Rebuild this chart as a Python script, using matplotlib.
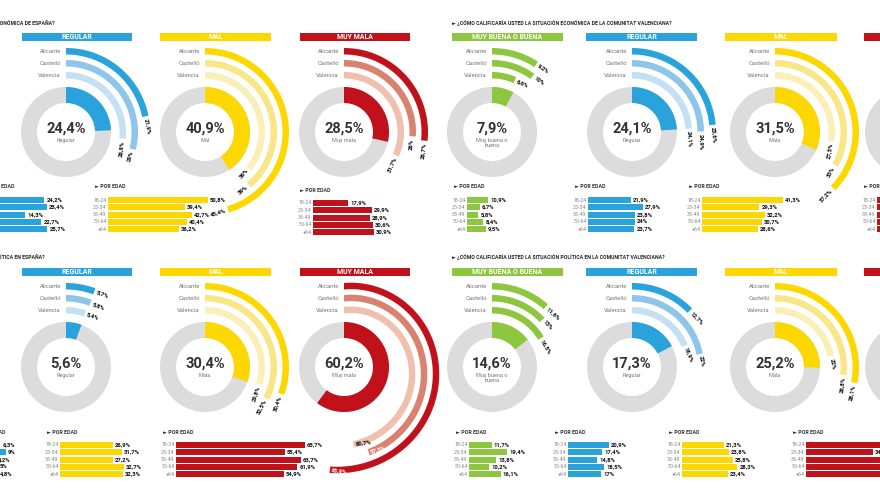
import numpy as np
import matplotlib.pyplot as plt
from matplotlib.patches import Polygon, Wedge, Rectangle

plt.rcParams['font.family'] = ['Roboto', 'DejaVu Sans']

provincias = ['Alicante', 'Castelló', 'Valencia']
edades = ['18-24', '25-34', '35-49', '50-64', '+64']

# situación económica de España
eco_esp_cat = ['REGULAR', 'MAL', 'MUY MALA']
eco_esp_sub = ['Regular', 'Mal', 'Muy mala']
eco_esp_total = [24.4, 40.9, 28.5]
eco_esp_prov = [[21.9, 29.0, 26.8], [45.4, 39.0, 36.0], [26.7, 26.0, 31.7]]
eco_esp_edad = [[24.2, 25.4, 14.3, 22.7, 25.7],
                [50.8, 39.4, 42.7, 40.4, 36.2],
                [17.9, 29.9, 28.9, 30.6, 30.9]]

# situación económica de la Comunitat Valenciana
eco_cv_cat = ['MUY BUENA O BUENA', 'REGULAR', 'MAL', 'MUY MALA']
eco_cv_sub = ['Muy buena o\nbuena', 'Regular', 'Mala', 'Muy mala']
eco_cv_total = [7.9, 24.1, 31.5, 33.0]
eco_cv_prov = [[9.2, 10.0, 6.6], [23.6, 24.9, 24.1], [37.2, 33.0, 27.5], [34.0, 31.0, 33.5]]
eco_cv_edad = [[10.9, 6.7, 5.8, 8.4, 9.5],
               [21.9, 27.9, 23.8, 24.0, 23.7],
               [41.3, 29.3, 32.2, 30.7, 28.6],
               [30.1, 32.4, 35.0, 33.2, 34.5]]

# situación política en España
pol_esp_cat = ['REGULAR', 'MAL', 'MUY MALA']
pol_esp_sub = ['Regular', 'Mala', 'Muy mala']
pol_esp_total = [5.6, 30.4, 60.2]
pol_esp_prov = [[5.7, 5.8, 5.4], [30.4, 32.5, 29.8], [65.9, 57.5, 60.7]]
pol_esp_edad = [[6.3, 9.0, 4.2, 5.0, 4.8],
                [26.9, 31.7, 27.2, 32.7, 32.3],
                [65.7, 55.4, 63.7, 61.9, 54.9]]

# situación política en la Comunitat Valenciana
pol_cv_cat = ['MUY BUENA O BUENA', 'REGULAR', 'MAL', 'MUY MALA']
pol_cv_sub = ['Muy buena o\nbuena', 'Regular', 'Mala', 'Muy mala']
pol_cv_total = [14.6, 17.3, 25.2, 38.0]
pol_cv_prov = [[11.6, 13.0, 16.5], [12.7, 22.0, 18.9], [28.1, 26.8, 22.0], [40.0, 36.0, 38.0]]
pol_cv_edad = [[11.7, 19.4, 13.8, 10.2, 16.1],
               [20.9, 17.4, 14.8, 18.5, 17.0],
               [21.3, 23.8, 25.8, 28.3, 23.4],
               [45.0, 34.2, 44.0, 47.0, 52.0]]

palette = {
    'green': ['#8dc63f', '#8dc63f', '#8dc63f'],
    'blue': ['#2aa3dd', '#8ec6ea', '#c4e1f4'],
    'yellow': ['#fdd800', '#f9e687', '#fbefb8'],
    'red': ['#c1121c', '#d9826f', '#efc0ae'],
}
GRAY = '#dcdcdc'
PX = 1.96  # pixels per percentage point in the age bars


def fmt(v):
    if float(v).is_integer():
        return f'{int(v)}%'
    return f'{v:.1f}%'.replace('.', ',')


def band(ax, cx, cy, r_in, width, pct, color, grow=0.0, deg=3.6):
    a = np.radians(np.linspace(0, pct * deg, 150))
    g = grow * a / (2 * np.pi)
    ro, ri = r_in + width + g, r_in + g
    xs = np.r_[cx + ro * np.sin(a), (cx + ri * np.sin(a))[::-1]]
    ys = np.r_[cy - ro * np.cos(a), (cy - ri * np.cos(a))[::-1]]
    ax.add_patch(Polygon(np.column_stack([xs, ys]), closed=True, fc=color, ec='none'))
    return a[-1], r_in + width / 2 + g[-1]


def draw_col(ax, cx, cy, hx, cat, sub, total, prov, ckey, grow=0.0, deg=3.6, inside=False):
    cols = palette[ckey]
    ax.add_patch(Rectangle((hx[0], cy - 99), hx[1] - hx[0], 8, fc=cols[0], ec='none'))
    ax.text((hx[0] + hx[1]) / 2, cy - 94.8, cat, ha='center', va='center', color='white',
            fontsize=5, fontweight='bold')
    ax.add_patch(Wedge((cx, cy), 45, 0, 360, width=16, fc=GRAY, ec='none'))
    band(ax, cx, cy, 29, 16, total, cols[0])
    ax.text(cx, cy - 3, fmt(total), ha='center', va='center', fontsize=10.5,
            fontweight='bold', color='#333333')
    ax.text(cx, cy + 6, sub, ha='center', va='top', fontsize=4, color='#777777',
            linespacing=1.1)
    for i, (name, v) in enumerate(zip(provincias, prov)):
        r_in = 77.5 - 12 * i
        a, r = band(ax, cx, cy, r_in, 6.5, v, cols[i], grow, deg)
        ax.text(cx - 5, cy - r_in - 3.25, name, ha='right', va='center',
                fontsize=4.2, color='#777777')
        off = -1.5 if inside else 2
        px = cx + r * np.sin(a) + off * np.cos(a)
        py = cy - r * np.cos(a) + off * np.sin(a)
        rot = -np.degrees(a)
        flip = rot < -90
        if flip:
            rot += 180
        ha = 'right' if flip != inside else 'left'
        tcol = '#111111'
        if inside and i < 2:
            tcol = 'white'
        ax.text(px, py, fmt(v), rotation=rot, rotation_mode='anchor', ha=ha,
                va='center', fontsize=4.3, fontweight='bold', color=tcol)


def draw_age(ax, x0, y0, vals, ckey):
    ys = y0 + 7.3 * np.arange(len(vals))
    ax.barh(ys, np.array(vals) * PX, left=x0, height=6, color=palette[ckey][0])
    ax.text(x0 - 13, y0 - 13, '► POR EDAD', ha='left', va='center', fontsize=3.8,
            fontweight='bold', color='#333333')
    for y, lab, v in zip(ys, edades, vals):
        ax.text(x0 - 1.5, y, lab, ha='right', va='center', fontsize=3.8, color='#888888')
        ax.text(x0 + v * PX + 2, y, fmt(v), ha='left', va='center', fontsize=4.2,
                fontweight='bold', color='#111111')


fig = plt.figure(figsize=(8.8, 4.95), dpi=100)
ax = fig.add_axes([0, 0, 1, 1])
ax.set_xlim(0, 880)
ax.set_ylim(495, 0)
ax.axis('off')

left_cx = [66, 205, 344]
left_hx = [(22, 132), (160, 271), (300, 410)]
right_cx = [492, 632, 775, 910]
right_hx = [(452, 563), (586, 697), (725, 837), (864, 975)]
keys_left = ['blue', 'yellow', 'red']
keys_right = ['green', 'blue', 'yellow', 'red']

title_kw = dict(fontsize=3.7, fontweight='bold', color='#222222', va='center')
ax.text(55, 23, '► ¿CÓMO CALIFICARÍA USTED LA SITUACIÓN ECONÓMICA DE ESPAÑA?', ha='right', **title_kw)
ax.text(452, 23, '► ¿CÓMO CALIFICARÍA USTED LA SITUACIÓN ECONÓMICA DE LA COMUNITAT VALENCIANA?',
        ha='left', **title_kw)
ax.text(45, 257, '► ¿CÓMO CALIFICARÍA USTED LA SITUACIÓN POLÍTICA EN ESPAÑA?', ha='right', **title_kw)
ax.text(452, 257, '► ¿CÓMO CALIFICARÍA USTED LA SITUACIÓN POLÍTICA EN LA COMUNITAT VALENCIANA?',
        ha='left', **title_kw)

# economic block
for i in range(3):
    draw_col(ax, left_cx[i], 132, left_hx[i], eco_esp_cat[i], eco_esp_sub[i],
             eco_esp_total[i], eco_esp_prov[i], keys_left[i])
for i in range(4):
    draw_col(ax, right_cx[i], 132, right_hx[i], eco_cv_cat[i], eco_cv_sub[i],
             eco_cv_total[i], eco_cv_prov[i], keys_right[i])

# political block (the "muy mala" rings are drawn on a tighter spiral, as in the print)
styles = [dict(), dict(), dict(grow=44, deg=2.85, inside=True)]
for i in range(3):
    draw_col(ax, left_cx[i], 367, left_hx[i], pol_esp_cat[i], pol_esp_sub[i],
             pol_esp_total[i], pol_esp_prov[i], keys_left[i], **styles[i])
for i in range(4):
    draw_col(ax, right_cx[i], 367, right_hx[i], pol_cv_cat[i], pol_cv_sub[i],
             pol_cv_total[i], pol_cv_prov[i], keys_right[i])

# age bars
for x0, y0, vals, k in zip([-3, 108, 313], [200, 200, 203], eco_esp_edad, keys_left):
    draw_age(ax, x0, y0, vals, k)
for x0, vals, k in zip([467, 588, 702, 877], eco_cv_edad, keys_right):
    draw_age(ax, x0, 200, vals, k)
for x0, vals, k in zip([-12, 60, 176], pol_esp_edad, keys_left):
    draw_age(ax, x0, 445, vals, k)
for x0, vals, k in zip([469, 568, 682, 806], pol_cv_edad, keys_right):
    draw_age(ax, x0, 445, vals, k)

fig.savefig('out.png', dpi=100)
